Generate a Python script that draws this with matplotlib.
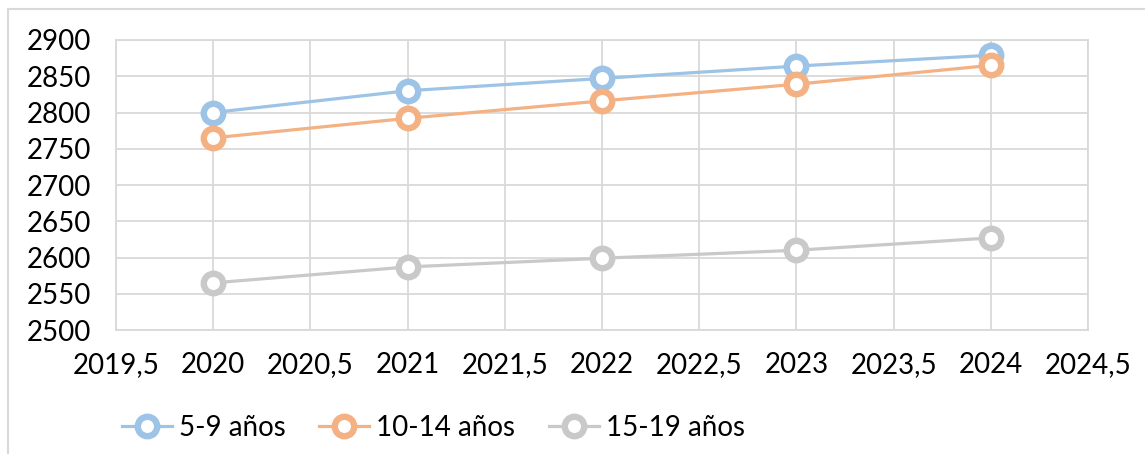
import matplotlib.pyplot as plt
from matplotlib.ticker import FuncFormatter
from matplotlib.patches import Rectangle

years = [2020, 2021, 2022, 2023, 2024]
edad_5_9 = [2800, 2830, 2847, 2864, 2879]
edad_10_14 = [2765, 2792, 2816, 2839, 2865]
edad_15_19 = [2565, 2587, 2599, 2610, 2627]
labels = ["5-9 años", "10-14 años", "15-19 años"]
colors = ["#9DC3E6", "#F4B183", "#C9C9C9"]

plt.rcParams["font.family"] = ["Lato", "DejaVu Sans"]

fig = plt.figure(figsize=(11.45, 4.54), dpi=100)
ax = fig.add_axes([0.1013, 0.2731, 0.8489, 0.6388])

# outer chart border (cut off on right/bottom)
fig.patches.append(Rectangle((8 / 1145, -0.1), 1.2, 1 - 9 / 454 + 0.1,
                             transform=fig.transFigure, fill=False,
                             ec="#D9D9D9", lw=1.5))

for vals, lab, col in zip([edad_5_9, edad_10_14, edad_15_19], labels, colors):
    ax.plot(years, vals, color=col, lw=2.3, label=lab, marker="o",
            markersize=14, markerfacecolor="white", markeredgecolor=col,
            markeredgewidth=4.6, zorder=3)

ax.set_xlim(2019.5, 2024.5)
ax.set_ylim(2500, 2900)
ax.set_xticks([2019.5 + 0.5 * i for i in range(11)])
ax.set_yticks(range(2500, 2901, 50))
ax.xaxis.set_major_formatter(FuncFormatter(lambda v, p: f"{v:g}".replace(".", ",")))
ax.grid(True, color="#D9D9D9", lw=1.3)
ax.set_axisbelow(True)
for s in ax.spines.values():
    s.set_color("#D9D9D9")
    s.set_linewidth(1.3)
ax.tick_params(length=0, labelsize=20, colors="black")
ax.tick_params(axis="y", pad=18)
ax.tick_params(axis="x", pad=16)

fig.legend(loc="center left", bbox_to_anchor=(0.085, 0.057), ncol=3,
           frameon=False, fontsize=20, handlelength=1.8, handletextpad=0.25,
           columnspacing=1.2)

fig.savefig("out.png", dpi=100)
